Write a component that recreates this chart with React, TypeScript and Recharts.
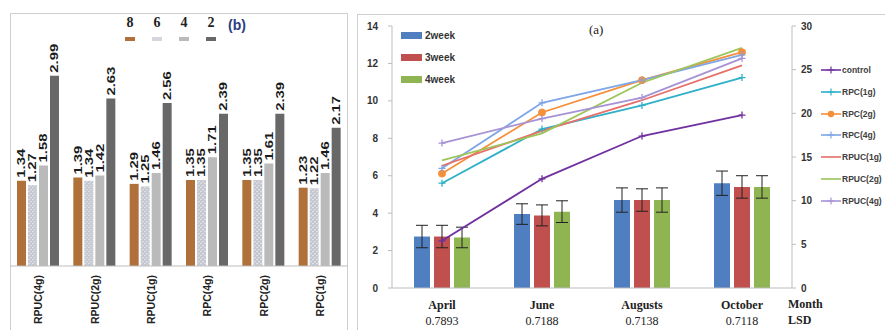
import React from 'react';
import { BarChart, Bar, ComposedChart, Line, XAxis, YAxis, LabelList, ErrorBar } from 'recharts';

// panel (b): storage weeks per treatment
const treatments = ['RPUC(4g)', 'RPUC(2g)', 'RPUC(1g)', 'RPC(4g)', 'RPC(2g)', 'RPC(1g)'];
const week8 = [1.34, 1.39, 1.29, 1.35, 1.35, 1.23];
const week6 = [1.27, 1.34, 1.25, 1.35, 1.35, 1.22];
const week4b = [1.58, 1.42, 1.46, 1.71, 1.61, 1.46];
const week2b = [2.99, 2.63, 2.56, 2.39, 2.39, 2.17];

// panel (a): months
const months = ['April', 'June', 'Augusts', 'October'];
const lsd = ['0.7893', '0.7188', '0.7138', '0.7118'];
const bar2week = [2.75, 3.95, 4.7, 5.6];
const err2week = [0.6, 0.55, 0.65, 0.65];
const bar3week = [2.75, 3.88, 4.7, 5.4];
const err3week = [0.6, 0.56, 0.6, 0.6];
const bar4week = [2.7, 4.08, 4.7, 5.4];
const err4week = [0.55, 0.58, 0.65, 0.6];

const control = [5.4, 12.5, 17.4, 19.8];
const rpc1 = [12.0, 18.2, 20.9, 24.1];
const rpc2 = [13.1, 20.1, 23.8, 27.0];
const rpc4 = [13.7, 21.2, 23.8, 26.7];
const rpuc1 = [14.0, 18.0, 21.5, 25.5];
const rpuc2 = [14.6, 17.7, 23.5, 27.5];
const rpuc4 = [16.6, 19.4, 21.8, 26.3];

const leftTicks = [0, 2, 4, 6, 8, 10, 12, 14];
const rightTicks = [0, 5, 10, 15, 20, 25, 30];

const lines = [
  { key: 'control', name: 'control', color: '#7030a0', values: control, marker: 'plus' },
  { key: 'rpc1', name: 'RPC(1g)', color: '#2fb0c8', values: rpc1, marker: 'plus' },
  { key: 'rpc2', name: 'RPC(2g)', color: '#f58f3a', values: rpc2, marker: 'circle' },
  { key: 'rpc4', name: 'RPC(4g)', color: '#7fa6e6', values: rpc4, marker: 'plus' },
  { key: 'rpuc1', name: 'RPUC(1g)', color: '#e66f6a', values: rpuc1, marker: 'none' },
  { key: 'rpuc2', name: 'RPUC(2g)', color: '#9cc55a', values: rpuc2, marker: 'none' },
  { key: 'rpuc4', name: 'RPUC(4g)', color: '#a593d6', values: rpuc4, marker: 'plus' },
];

const weekBars = [
  { key: 'w2', err: 'e2', name: '2week', color: '#4f7fc0' },
  { key: 'w3', err: 'e3', name: '3week', color: '#c0504d' },
  { key: 'w4', err: 'e4', name: '4week', color: '#8fb552' },
];

const bSeries = [
  { key: 'b8', name: '8', fill: '#b0703a', swatch: '#b0703a' },
  { key: 'b6', name: '6', fill: 'url(#speckle)', swatch: '#d3d6dc' },
  { key: 'b4', name: '4', fill: '#bababa', swatch: '#bababa' },
  { key: 'b2', name: '2', fill: '#686868', swatch: '#686868' },
];

const leftData = treatments.map((t, i) => ({
  name: t, b8: week8[i], b6: week6[i], b4: week4b[i], b2: week2b[i],
}));

const rightData = months.map((m, i) => {
  const row: Record<string, string | number> = {
    month: m, lsd: lsd[i],
    w2: bar2week[i], e2: err2week[i],
    w3: bar3week[i], e3: err3week[i],
    w4: bar4week[i], e4: err4week[i],
  };
  lines.forEach((l) => { row[l.key] = l.values[i]; });
  return row;
});

const VLabel = (p: any) => {
  const cx = p.x + p.width / 2;
  const top = p.y - 3;
  return (
    <text
      transform={`translate(${cx},${top}) rotate(-90) scale(1.35,1)`}
      textAnchor="start"
      dominantBaseline="central"
      fontSize={11}
      fontWeight="bold"
      fill="#1a1a1a"
      fontFamily="Liberation Sans, Arial"
    >
      {p.value}
    </text>
  );
};

const RotTick = (p: any) => (
  <text
    transform={`translate(${p.x},${p.y + 1}) rotate(-90)`}
    textAnchor="end"
    dominantBaseline="central"
    fontSize={10.5}
    fontWeight="bold"
    fill="#222"
    fontFamily="Liberation Sans, Arial"
  >
    {p.payload.value}
  </text>
);

const MonthTick = (p: any) => {
  const i = months.indexOf(p.payload.value);
  return (
    <g fontFamily="Liberation Serif, Times New Roman, serif" fontSize={12} fill="#222">
      <text x={p.x} y={p.y + 19} textAnchor="middle" fontWeight="bold">{p.payload.value}</text>
      <text x={p.x} y={p.y + 35} textAnchor="middle">{lsd[i]}</text>
    </g>
  );
};

const makeDot = (marker: string, color: string) => (p: any) => {
  if (p.cx == null || p.cy == null) return <g key={p.index} />;
  if (marker === 'circle') {
    return <circle key={p.index} cx={p.cx} cy={p.cy} r={3.5} fill={color} stroke={color} />;
  }
  return (
    <path
      key={p.index}
      d={`M${p.cx - 3.5},${p.cy}h7M${p.cx},${p.cy - 3.5}v7`}
      stroke={color}
      strokeWidth={1.3}
    />
  );
};

const axisTick = { fontSize: 10, fontWeight: 'bold', fill: '#333', fontFamily: 'Liberation Sans, Arial' };

export default function App() {
  return (
    <div style={{ position: 'absolute', left: 0, top: 0, width: 885, height: 330, overflow: 'hidden', background: '#fff', fontFamily: 'Liberation Sans, Arial, sans-serif' }}>
      {/* panel b */}
      <div style={{ position: 'absolute', left: 10, top: 13, width: 338, height: 400, border: '1px solid #cfcfcf', boxSizing: 'border-box' }} />
      <div style={{ position: 'absolute', left: 10, top: 13 }}>
        <BarChart width={338} height={340} data={leftData} margin={{ top: 62, right: 0, left: 0, bottom: 0 }} barSize={9} barGap={2}>
          <defs>
            <pattern id="speckle" width="4" height="4" patternUnits="userSpaceOnUse">
              <rect width="4" height="4" fill="#c4c7cf" />
              <path d="M0,1 L2,0 M2,3 L4,2" stroke="#eef0f4" strokeWidth="0.8" />
            </pattern>
          </defs>
          <XAxis dataKey="name" height={87} interval={0} tickLine={false} axisLine={{ stroke: '#bdbdbd' }} tick={(p: any) => <RotTick {...p} />} />
          <YAxis hide domain={[0, 3]} />
          {bSeries.map((s) => (
            <Bar key={s.key} dataKey={s.key} fill={s.fill} isAnimationActive={false}>
              <LabelList dataKey={s.key} content={VLabel} />
            </Bar>
          ))}
        </BarChart>
      </div>
      {bSeries.map((s, i) => (
        <div key={s.key} style={{ position: 'absolute', left: 124 + i * 27, top: 15, width: 12, textAlign: 'center' }}>
          <div style={{ fontFamily: 'Liberation Serif, serif', fontWeight: 'bold', fontSize: 14, lineHeight: '16px', color: '#222' }}>{s.name}</div>
          <div style={{ width: 10, height: 4, margin: '6px auto 0', background: s.swatch }} />
        </div>
      ))}
      <div style={{ position: 'absolute', left: 228, top: 17, fontWeight: 'bold', fontSize: 14, color: '#2b3d80' }}>(b)</div>

      {/* panel a */}
      <div style={{ position: 'absolute', left: 357, top: 14, width: 600, height: 400, border: '1px solid #d0d0d0', boxSizing: 'border-box' }} />
      <div style={{ position: 'absolute', left: 357, top: 14 }}>
        <ComposedChart width={528} height={330} data={rightData} margin={{ top: 12, right: 0, left: 0, bottom: 0 }} barSize={16} barGap={4}>
          <XAxis dataKey="month" height={56} interval={0} tickLine={false} tickSize={0} axisLine={{ stroke: '#bdbdbd' }} tick={(p: any) => <MonthTick {...p} />} />
          <YAxis yAxisId="left" width={35} domain={[0, 14]} ticks={leftTicks} tickSize={4} tickMargin={10} axisLine={{ stroke: '#bdbdbd' }} tickLine={{ stroke: '#bdbdbd' }} tick={axisTick} />
          <YAxis yAxisId="right" orientation="right" width={93} domain={[0, 30]} ticks={rightTicks} tickSize={4} tickMargin={5} axisLine={{ stroke: '#bdbdbd' }} tickLine={{ stroke: '#bdbdbd' }} tick={{ ...axisTick, textAnchor: 'start' }} />
          {weekBars.map((b) => (
            <Bar key={b.key} yAxisId="left" dataKey={b.key} fill={b.color} isAnimationActive={false}>
              <ErrorBar dataKey={b.err} width={6} stroke="#222" strokeWidth={1} />
            </Bar>
          ))}
          {lines.map((l) => (
            <Line
              key={l.key}
              yAxisId="right"
              dataKey={l.key}
              stroke={l.color}
              strokeWidth={1.8}
              dot={l.marker === 'none' ? false : makeDot(l.marker, l.color)}
              activeDot={false}
              isAnimationActive={false}
            />
          ))}
        </ComposedChart>
      </div>

      {/* (a) title and bar legend */}
      <div style={{ position: 'absolute', left: 589, top: 22, fontFamily: 'Liberation Serif, serif', fontSize: 13, color: '#222' }}>(a)</div>
      {weekBars.map((b, i) => (
        <div key={b.key} style={{ position: 'absolute', left: 401, top: 30 + i * 22, display: 'flex', alignItems: 'center', fontSize: 10, fontWeight: 'bold', color: '#333' }}>
          <span style={{ width: 21, height: 7, background: b.color, marginRight: 3 }} />
          {b.name}
        </div>
      ))}

      {/* line legend */}
      {lines.map((l, i) => (
        <div key={l.key} style={{ position: 'absolute', left: 821, top: 64 + i * 21.8, display: 'flex', alignItems: 'center', fontSize: 8.5, fontWeight: 'bold', color: '#404040', whiteSpace: 'nowrap', height: 12 }}>
          <svg width={20} height={10} style={{ marginRight: 1 }}>
            <line x1={0} y1={5} x2={20} y2={5} stroke={l.color} strokeWidth={1.6} />
            {l.marker === 'circle' && <circle cx={10} cy={5} r={3.2} fill={l.color} />}
            {l.marker === 'plus' && <path d="M6.5,5h7M10,1.5v7" stroke={l.color} strokeWidth={1.2} />}
          </svg>
          {l.name}
        </div>
      ))}

      <div style={{ position: 'absolute', left: 788, top: 296, fontFamily: 'Liberation Serif, serif', fontSize: 12, fontWeight: 'bold', color: '#222', lineHeight: '16px' }}>
        <div>Month</div>
        <div>LSD</div>
      </div>
    </div>
  );
}
